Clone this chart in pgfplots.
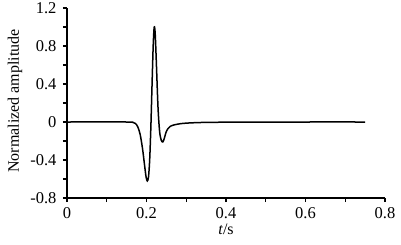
\documentclass[border=0pt]{standalone}
\usepackage{fontspec}
\setmainfont{Liberation Serif}
\usepackage{pgfplots}
\pgfplotsset{compat=1.18}
\begin{document}
\begin{tikzpicture}
\path[use as bounding box] (-67pt,-46pt) rectangle (334pt,198pt);
\begin{axis}[
  at={(0,0)}, anchor=south west,
  scale only axis, width=318pt, height=190pt,
  xmin=0, xmax=0.8, ymin=-0.8, ymax=1.2,
  axis x line*=bottom, axis y line*=left,
  axis line style={line width=1.3pt},
  tick align=outside, tick style={line width=1.3pt, black},
  major tick length=4pt, minor tick length=4pt,
  xtick={0,0.2,0.4,0.6,0.8}, xticklabels={0,0.2,0.4,0.6,0.8},
  minor xtick={0.1,0.3,0.5,0.7},
  ytick={-0.8,-0.4,0,0.4,0.8,1.2}, yticklabels={-0.8,-0.4,0,0.4,0.8,1.2},
  minor ytick={-0.6,-0.2,0.2,0.6,1.0},
  ticklabel style={font=\fontsize{16.5}{18}\selectfont},
  xticklabel style={yshift=-2pt},
  yticklabel style={xshift=-3pt},
  label style={font=\fontsize{16}{18}\selectfont},
  xlabel={\textit{t}/s},
  ylabel={Normalized amplitude},
  xlabel style={at={(axis description cs:0.5,0)}, anchor=center, yshift=-31pt},
  ylabel style={at={(axis description cs:0,0.5)}, anchor=center, yshift=52pt, xshift=2pt},
  clip=false,
]
\addplot[black, line width=1.5pt, smooth, tension=0.5] coordinates {
(0,0) (0.15,0) (0.165,-0.003) (0.172,-0.015) (0.178,-0.05) (0.184,-0.13)
(0.190,-0.28) (0.195,-0.45) (0.199,-0.58) (0.202,-0.62) (0.205,-0.58)
(0.208,-0.40) (0.211,-0.05) (0.214,0.40) (0.217,0.82) (0.2195,1.0)
(0.222,0.92) (0.225,0.60) (0.229,0.15) (0.233,-0.10) (0.237,-0.19)
(0.241,-0.21) (0.245,-0.17) (0.249,-0.11) (0.254,-0.07) (0.26,-0.045)
(0.27,-0.03) (0.285,-0.018) (0.30,-0.012) (0.33,-0.006) (0.37,-0.003)
(0.45,-0.001) (0.6,0) (0.75,0)
};
\end{axis}
\end{tikzpicture}
\end{document}
